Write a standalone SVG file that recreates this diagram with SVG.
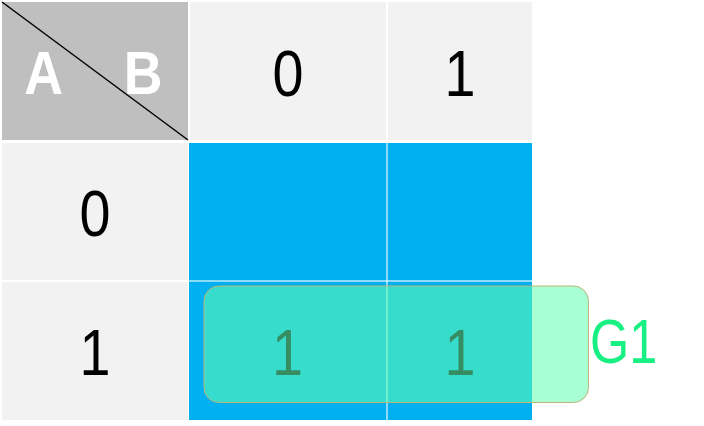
<svg xmlns="http://www.w3.org/2000/svg" width="704" height="426" viewBox="0 0 704 426">
<style>
.hdr{fill:#f2f2f2}
.num{font-family:"Liberation Sans",Arial,sans-serif;font-size:64px;fill:#000;text-anchor:middle}
.ab{font-family:"Liberation Sans",Arial,sans-serif;font-size:61px;font-weight:bold;fill:#fff;text-anchor:middle}
.sep{stroke:#ffffff;stroke-opacity:0.55;stroke-width:2}
</style>
<rect width="704" height="426" fill="#fff"/>
<g id="corner">
<rect x="2" y="2" width="186" height="138" fill="#bfbfbf"/>
<line x1="2" y1="2" x2="188" y2="140" stroke="#000" stroke-width="1.5"/>
<text class="ab" transform="translate(43.5,94) scale(0.88,1)">A</text>
<text class="ab" transform="translate(143,94) scale(0.88,1)">B</text>
</g>
<g id="col0">
<rect class="hdr" x="190" y="2" width="196" height="138"/>
<text class="num" transform="translate(288,95.5) scale(0.87,1)">0</text>
</g>
<g id="col1">
<rect class="hdr" x="388" y="2" width="144" height="138"/>
<text class="num" transform="translate(460,95.5) scale(0.87,1)">1</text>
</g>
<g id="row0">
<rect class="hdr" x="2" y="143" width="186" height="137"/>
<text class="num" transform="translate(95,236) scale(0.87,1)">0</text>
</g>
<g id="row1">
<rect class="hdr" x="2" y="282" width="186" height="138"/>
<text class="num" transform="translate(95,375) scale(0.87,1)">1</text>
</g>
<g id="cells">
<rect x="189" y="143" width="343" height="277" fill="#00b0f0"/>
<line class="sep" x1="189" y1="281" x2="532" y2="281"/>
<line class="sep" x1="387" y1="143" x2="387" y2="420"/>
<text class="num" transform="translate(287.5,375) scale(0.87,1)">1</text>
<text class="num" transform="translate(460,375) scale(0.87,1)">1</text>
</g>
<g id="G1">
<rect x="204" y="286" width="384.5" height="116.5" rx="15" ry="15" fill="#62ffaf" fill-opacity="0.553" stroke="#bdb478" stroke-width="1"/>
<text transform="translate(590,363) scale(0.8,1)" font-family="'Liberation Sans',Arial,sans-serif" font-size="63" fill="#19f084">G1</text>
</g>
</svg>
